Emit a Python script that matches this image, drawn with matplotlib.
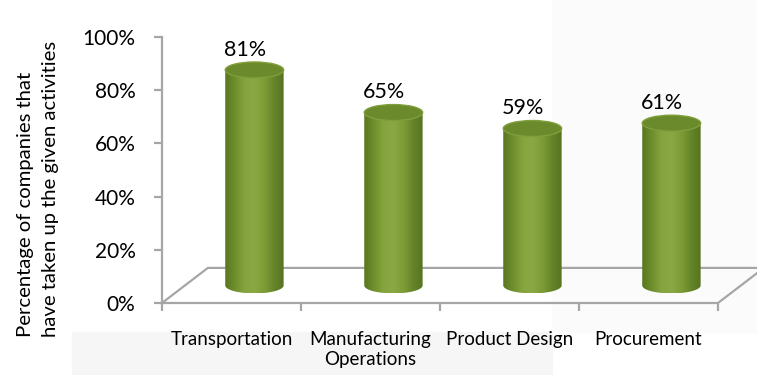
import numpy as np
import matplotlib
matplotlib.use("Agg")
from matplotlib import pyplot as plt
from matplotlib.patches import Ellipse, Rectangle, PathPatch
from matplotlib.path import Path
from matplotlib.colors import LinearSegmentedColormap

# Chart data
categories = ["Transportation", "Manufacturing\nOperations", "Product Design", "Procurement"]
values = [81, 65, 59, 61]
value_labels = ["81%", "65%", "59%", "61%"]
y_ticks = [0, 20, 40, 60, 80, 100]
y_tick_labels = ["0%", "20%", "40%", "60%", "80%", "100%"]
y_title = "Percentage of companies that\nhave taken up the given activities"

plt.rcParams["font.family"] = ["Lato", "DejaVu Sans"]

W, H = 757, 375
fig = plt.figure(figsize=(W / 100, H / 100), dpi=100)

# faint background panels behind the chart (from the original export)
fig.patches.append(Rectangle((72 / W, 0), 480 / W, 43 / H, transform=fig.transFigure,
                             color="#f6f6f6", zorder=-10))
fig.patches.append(Rectangle((552 / W, 43 / H), 205 / W, 332 / H, transform=fig.transFigure,
                             color="#fbfbfb", zorder=-10))

ax = fig.add_axes([162 / W, 72 / H, (W - 162) / W, 266 / H])
ax.patch.set_alpha(0)
n = len(categories)
xmax = (W - 162) / 139.0
ax.set_xlim(0, xmax)
ax.set_ylim(0, 100)

# 3D depth offset of the floor (category units, percent units)
dx, dy = 0.33, 13.2
grey = "#a6a6a6"

# floor outline
ax.plot([0, dx, xmax + 1], [0, dy, dy], color=grey, lw=1.6, zorder=1)
ax.plot([n, n + dx], [0, dy], color=grey, lw=1.6, zorder=1)

for s in ["top", "right"]:
    ax.spines[s].set_visible(False)
for s in ["left", "bottom"]:
    ax.spines[s].set_color(grey)
    ax.spines[s].set_linewidth(1.6)
ax.spines["bottom"].set_bounds(0, n)

ax.set_yticks(y_ticks)
ax.set_yticklabels(y_tick_labels, fontsize=15)
ax.tick_params(axis="y", direction="out", length=6, width=1.6, color=grey, pad=13)

ax.set_xticks(range(n + 1))
ax.set_xticklabels([""] * (n + 1))
ax.set_xticks([i + 0.5 for i in range(n)], minor=True)
ax.set_xticklabels(categories, minor=True, fontsize=13.5, linespacing=1.25, va="top")
ax.tick_params(axis="x", which="major", direction="out", length=6, width=1.6, color=grey)
ax.tick_params(axis="x", which="minor", length=0, pad=20)

# cylinders
w = 0.42
eh = 6.0
cmap = LinearSegmentedColormap.from_list(
    "cyl", ["#587620", "#6f8e2c", "#86a43e", "#8aa844", "#7e9c36", "#66852a", "#56731f"])
grad = np.linspace(0, 1, 256).reshape(1, -1)

for i, v in enumerate(values):
    cx = i + 0.5 + dx / 2
    base = dy / 2
    top = v + dy / 2
    # body: rectangle plus lower half ellipse
    t = np.linspace(np.pi, 2 * np.pi, 40)
    verts = [(cx - w / 2, top)]
    verts += [(cx + w / 2 * np.cos(a), base + eh / 2 * np.sin(a)) for a in t]
    verts += [(cx + w / 2, top), (cx - w / 2, top)]
    codes = [Path.MOVETO] + [Path.LINETO] * (len(verts) - 2) + [Path.CLOSEPOLY]
    body = PathPatch(Path(verts, codes), facecolor="none", edgecolor="none")
    ax.add_patch(body)
    im = ax.imshow(grad, cmap=cmap, aspect="auto", zorder=3,
                   extent=[cx - w / 2, cx + w / 2, base - eh / 2, top])
    im.set_clip_path(body)
    # top cap
    ax.add_patch(Ellipse((cx, top), w, eh, facecolor="#6b8a2b",
                         edgecolor="#809e3a", lw=1.0, zorder=4))
    ax.text(cx - 0.07, top + 7.6, value_labels[i], ha="center", va="center",
            fontsize=15.5, color="black", zorder=5)

ax.set_xlim(0, xmax)
ax.set_ylim(0, 100)

fig.text(38 / W, 1 - 337 / H, y_title, rotation=90, ha="center", va="bottom",
         multialignment="left", fontsize=14.6, linespacing=1.55)

fig.savefig("out.png", dpi=100)
